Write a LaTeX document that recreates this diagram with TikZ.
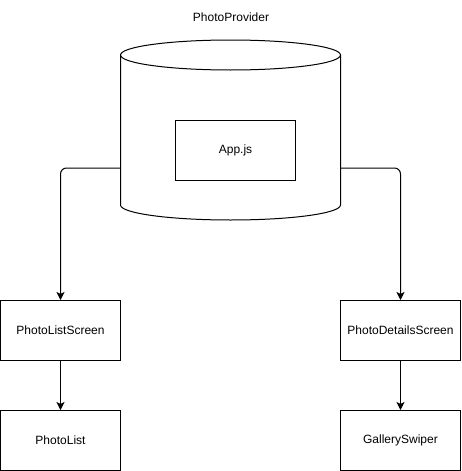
\documentclass[tikz,border=0pt]{standalone}
\usepackage{fontspec}
\setmainfont{Liberation Sans}
\usetikzlibrary{arrows.meta}
\begin{document}
\begin{tikzpicture}[x=1pt,y=-1pt,
  box/.style={draw=black,line width=1pt,minimum width=120pt,minimum height=60pt,inner sep=0pt,font=\fontsize{12}{14}\selectfont},
  conn/.style={draw=black,line width=1pt,-{Stealth[length=8pt,width=8pt,inset=2pt]},rounded corners=6pt}]
\useasboundingbox (0,0) rectangle (461,471);
% cylinder
\draw[line width=1pt,fill=white] (120.5,55) -- (120.5,205) arc[start angle=180,end angle=0,x radius=110,y radius=15] -- (340.5,55) arc[start angle=0,end angle=-180,x radius=110,y radius=15] -- cycle;
\draw[line width=1pt] (120.5,55) arc[start angle=180,end angle=0,x radius=110,y radius=15];
\node[inner sep=0pt,minimum width=220pt,minimum height=150pt] (db) at (230.5,130) {};
\node[font=\fontsize{12}{14}\selectfont] (title) at (231,17) {PhotoProvider};
\node[box] (app) at (235.5,150.5) {App.js};
\node[box] (pls) at (60.5,330.5) {PhotoListScreen};
\node[box] (pds) at (400.5,330.5) {PhotoDetailsScreen};
\node[box] (pl) at (60.5,440.5) {PhotoList};
\node[box] (gs) at (400.5,440.5) {GallerySwiper};
\coordinate (lstart) at (120.5,168);
\coordinate (rstart) at (340.5,168);
\draw[conn] (lstart) -| (pls.north);
\draw[conn] (rstart) -| (pds.north);
\draw[conn] (pls.south) -- (pl.north);
\draw[conn] (pds.south) -- (gs.north);
\end{tikzpicture}
\end{document}
